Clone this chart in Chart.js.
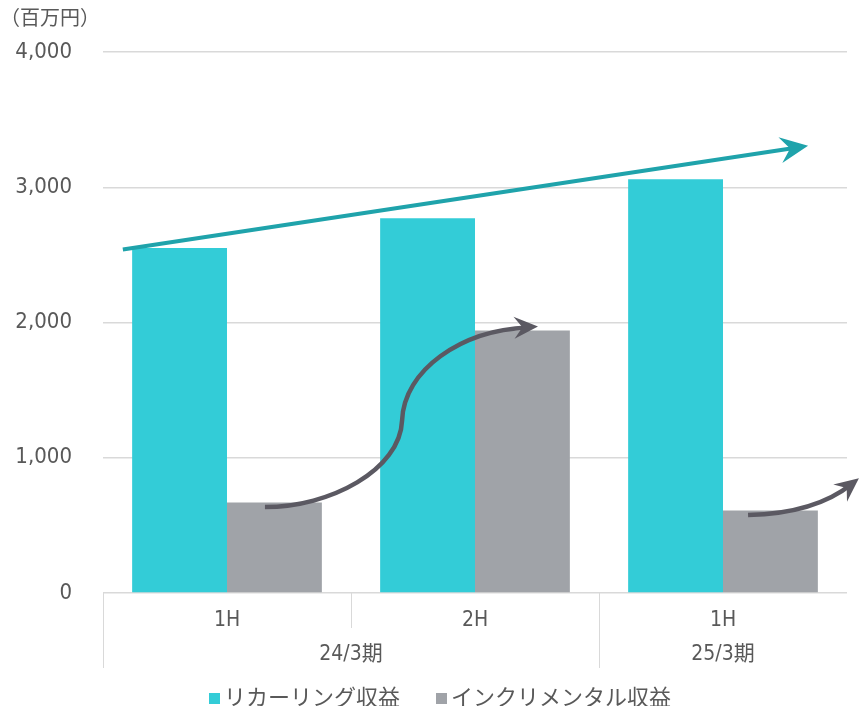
<!DOCTYPE html>
<html>
<head>
<meta charset="utf-8">
<script src="https://cdn.jsdelivr.net/npm/chart.js@4"></script>
<style>
  html, body { margin: 0; padding: 0; background: #fff; }
  #wrap { position: relative; width: 859px; height: 706px; overflow: hidden; }
  #legend { position: absolute; left: 0; top: 679px; width: 880px; display: flex; justify-content: center;
    font-family: "Noto Sans CJK JP", sans-serif; font-size: 22px; line-height: 32px; color: #595959; }
  #legend span.item { display: inline-flex; align-items: center; margin: 0 18px; }
  #legend span.box { display: inline-block; width: 11px; height: 11px; margin-right: 4px; margin-top: 6px; }
</style>
</head>
<body>
<div id="wrap">
  <canvas id="chart" width="859" height="706"></canvas>
  <div id="legend"></div>
</div>
<script>
// half-year categories and the fiscal periods they belong to
const halves = ['1H', '2H', '1H'];
const periods = ['24/3期', '25/3期'];
const periodSpans = [[0, 1], [2, 2]];

// revenue in millions of yen
const recurring = [2550, 2770, 3060];
const incremental = [670, 1940, 610];

const yTicks = [0, 1000, 2000, 3000, 4000];

// trend arrows, in (category index, value) units
const trendArrow = [[-0.42, 2539], [2.343, 3306]];
const curveArrow1 = [[0.153, 635], [0.415, 635], [0.698, 908], [0.706, 1277], [0.714, 1646], [0.94, 1941], [1.254, 1970]];
const curveArrow2 = [[2.101, 576], [2.371, 590], [2.548, 849]];

const tealColor = '#33ccd7';
const grayColor = '#a0a3a8';
const textColor = '#595959';
const lineColor = '#d9d9d9';
const tickFont = '"DejaVu Sans Condensed", "Noto Sans CJK JP", sans-serif';

function arrowHead(ctx, x, y, angle, len, wid, color) {
  ctx.save();
  ctx.translate(x, y);
  ctx.rotate(angle);
  ctx.fillStyle = color;
  ctx.beginPath();
  ctx.moveTo(0, 0);
  ctx.lineTo(-len, -wid / 2);
  ctx.lineTo(-len * 0.65, 0);
  ctx.lineTo(-len, wid / 2);
  ctx.closePath();
  ctx.fill();
  ctx.restore();
}

const extrasPlugin = {
  id: 'extras',
  afterDraw(chart) {
    const ctx = chart.ctx;
    const xs = chart.scales.x, ys = chart.scales.y;
    const pt = p => [xs.getPixelForValue(p[0]), ys.getPixelForValue(p[1])];
    const bottom = chart.chartArea.bottom;

    // separators below the axis
    ctx.save();
    ctx.strokeStyle = lineColor;
    ctx.lineWidth = 1;
    const seps = [[-0.5, 75], [0.5, 35], [1.5, 75]];
    seps.forEach(s => {
      const x = Math.round(xs.getPixelForValue(s[0])) + 0.5;
      ctx.beginPath();
      ctx.moveTo(x, bottom);
      ctx.lineTo(x, bottom + s[1]);
      ctx.stroke();
    });
    // period labels
    ctx.fillStyle = textColor;
    ctx.font = '21px ' + tickFont;
    ctx.textAlign = 'center';
    ctx.textBaseline = 'middle';
    periods.forEach((p, i) => {
      const span = periodSpans[i];
      const x = xs.getPixelForValue((span[0] + span[1]) / 2);
      ctx.fillText(p, x, bottom + 62);
    });
    ctx.restore();

    // teal trend arrow
    ctx.save();
    ctx.lineCap = 'butt';
    let a = pt(trendArrow[0]), b = pt(trendArrow[1]);
    let ang = Math.atan2(b[1] - a[1], b[0] - a[0]);
    ctx.strokeStyle = '#1fa3ab';
    ctx.lineWidth = 4;
    ctx.beginPath();
    ctx.moveTo(a[0], a[1]);
    ctx.lineTo(b[0] - 14 * Math.cos(ang), b[1] - 14 * Math.sin(ang));
    ctx.stroke();
    arrowHead(ctx, b[0], b[1], ang, 28, 26, '#1fa3ab');

    // gray curved arrows
    const dark = '#5b5962';
    ctx.strokeStyle = dark;
    ctx.lineWidth = 4.5;
    let p = curveArrow1.map(pt);
    ctx.beginPath();
    ctx.moveTo(p[0][0], p[0][1]);
    ctx.bezierCurveTo(p[1][0], p[1][1], p[2][0], p[2][1], p[3][0], p[3][1]);
    ctx.bezierCurveTo(p[4][0], p[4][1], p[5][0], p[5][1], p[6][0] - 10, p[6][1] + 1);
    ctx.stroke();
    ang = Math.atan2(p[6][1] - p[5][1], p[6][0] - p[5][0]);
    arrowHead(ctx, p[6][0], p[6][1], ang, 24, 22, dark);

    p = curveArrow2.map(pt);
    ang = Math.atan2(p[2][1] - p[1][1], p[2][0] - p[1][0]);
    ctx.beginPath();
    ctx.moveTo(p[0][0], p[0][1]);
    ctx.quadraticCurveTo(p[1][0], p[1][1], p[2][0] - 10 * Math.cos(ang), p[2][1] - 10 * Math.sin(ang));
    ctx.stroke();
    arrowHead(ctx, p[2][0], p[2][1], ang, 24, 22, dark);
    ctx.restore();
  }
};

const chart = new Chart(document.getElementById('chart'), {
  type: 'bar',
  data: {
    labels: halves,
    datasets: [
      { label: 'リカーリング収益', data: recurring, backgroundColor: tealColor },
      { label: 'インクリメンタル収益', data: incremental, backgroundColor: grayColor }
    ]
  },
  options: {
    responsive: false,
    animation: false,
    layout: { padding: { top: 0, right: 12, bottom: 36, left: 0 } },
    datasets: { bar: { barPercentage: 1, categoryPercentage: 0.765 } },
    scales: {
      x: {
        grid: { display: false },
        border: { display: false },
        ticks: { color: textColor, font: { family: tickFont, size: 21 }, padding: 7 },
        afterFit(scale) { scale.height = 77; }
      },
      y: {
        min: 0,
        max: 4000,
        afterBuildTicks(scale) { scale.ticks = yTicks.map(v => ({ value: v })); },
        grid: { color: lineColor, lineWidth: 1.5, drawTicks: false },
        border: { display: false },
        ticks: {
          color: textColor,
          font: { family: tickFont, size: 22 },
          padding: 31,
          callback: v => v.toLocaleString('en-US')
        },
        afterFit(scale) { scale.width = 103; }
      }
    },
    plugins: {
      legend: { display: false },
      tooltip: { enabled: false },
      title: {
        display: true,
        text: '（百万円）',
        align: 'start',
        color: textColor,
        font: { family: '"Noto Sans CJK JP", sans-serif', size: 20, weight: 'normal' },
        padding: { top: 5, bottom: 23 }
      }
    }
  },
  plugins: [extrasPlugin]
});

// legend below the chart
const legendEl = document.getElementById('legend');
chart.data.datasets.forEach(ds => {
  const item = document.createElement('span');
  item.className = 'item';
  const box = document.createElement('span');
  box.className = 'box';
  box.style.background = ds.backgroundColor;
  item.appendChild(box);
  item.appendChild(document.createTextNode(ds.label));
  legendEl.appendChild(item);
});
</script>
</body>
</html>
